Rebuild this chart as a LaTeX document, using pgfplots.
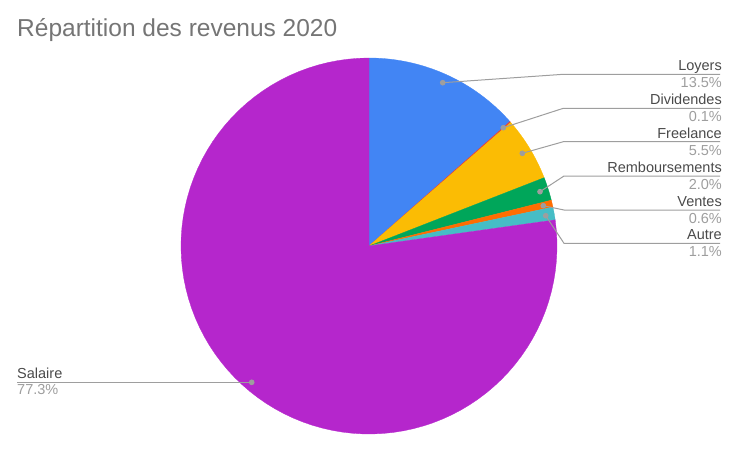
\documentclass[border=0pt]{standalone}
\usepackage{pgfplots}
\pgfplotsset{compat=1.18}
\usepackage{fontspec}
\setmainfont{Liberation Sans}

\definecolor{cLoy}{HTML}{4285F4}
\definecolor{cDiv}{HTML}{EA4335}
\definecolor{cFree}{HTML}{FBBC04}
\definecolor{cRemb}{HTML}{00A65A}
\definecolor{cVen}{HTML}{FF6D01}
\definecolor{cAut}{HTML}{46BDC6}
\definecolor{cSal}{HTML}{B526CC}
\definecolor{leader}{HTML}{9E9E9E}
\definecolor{lname}{HTML}{4A4A4A}
\definecolor{lpct}{HTML}{9E9E9E}
\definecolor{ttl}{HTML}{757575}

% pie centre (369,205), radius 188; total of the shares 100.1
% #1 = share before this slice, #2 = share of the slice, #3 = colour
\newcommand{\slice}[3]{%
  \addplot[draw=#3, line width=0.3pt, fill=#3, samples=90, variable=\t,
    domain={90-360*(#1+#2)/100.1}:{90-360*(#1)/100.1}]
    ({369+188*cos(\t)}, {205+188*sin(\t)}) -- (axis cs:369,205) -- cycle;
}
% leader: dot, bend, line end
\newcommand{\leader}[5]{%
  \addplot[leader, line width=1pt, mark=*, mark size=2.3pt, mark indices={1},
    mark options={fill=leader, draw=leader}]
    coordinates {(#1,#2) (#3,#4) (#5,#4)};
}
\newcommand{\rlabel}[3]{%
  \node[anchor=base east, text=lname, inner sep=0pt, font=\fontsize{14.5}{17}\selectfont] at (axis cs:722,#1+3.5) {#2};
  \node[anchor=base east, text=lpct, inner sep=0pt, font=\fontsize{14.5}{17}\selectfont] at (axis cs:722,#1-13.5) {#3};
}

\begin{document}
\begin{tikzpicture}
\useasboundingbox (0,0) rectangle (738pt,451pt);
\begin{axis}[
    hide axis,
    scale only axis,
    width=738pt, height=451pt,
    xmin=0, xmax=738, ymin=0, ymax=451,
    clip=false
]
\slice{0}{13.5}{cLoy}
\slice{13.5}{0.1}{cDiv}
\slice{13.6}{5.5}{cFree}
\slice{19.1}{2.0}{cRemb}
\slice{21.1}{0.6}{cVen}
\slice{21.7}{1.1}{cAut}
\slice{22.8}{77.3}{cSal}

\leader{442.7}{368.3}{563.3}{376.7}{720}
\leader{503.3}{323.3}{563.3}{342.7}{720}
\leader{522.3}{297.7}{563.3}{309.3}{720}
\leader{540}{259.3}{564}{275}{720}
\leader{543.3}{245.3}{564}{241}{720}
\leader{545.7}{235.3}{564}{207.7}{720}
\addplot[leader, line width=1pt, mark=*, mark size=2.3pt, mark indices={2},
    mark options={fill=leader, draw=leader}]
    coordinates {(17,68.7) (251.7,68.7)};

\rlabel{376.7}{Loyers}{13.5\%}
\rlabel{342.7}{Dividendes}{0.1\%}
\rlabel{309.3}{Freelance}{5.5\%}
\rlabel{275}{Remboursements}{2.0\%}
\rlabel{241}{Ventes}{0.6\%}
\rlabel{207.7}{Autre}{1.1\%}
\node[anchor=base west, text=lname, inner sep=0pt, font=\fontsize{14.5}{17}\selectfont] at (axis cs:17,72.5) {Salaire};
\node[anchor=base west, text=lpct, inner sep=0pt, font=\fontsize{14.5}{17}\selectfont] at (axis cs:17,56.5) {77.3\%};

\node[anchor=base west, text=ttl, inner sep=0pt, font=\fontsize{24.5}{29}\selectfont] at (axis cs:17,414.5) {Répartition des revenus 2020};
\end{axis}
\end{tikzpicture}
\end{document}
